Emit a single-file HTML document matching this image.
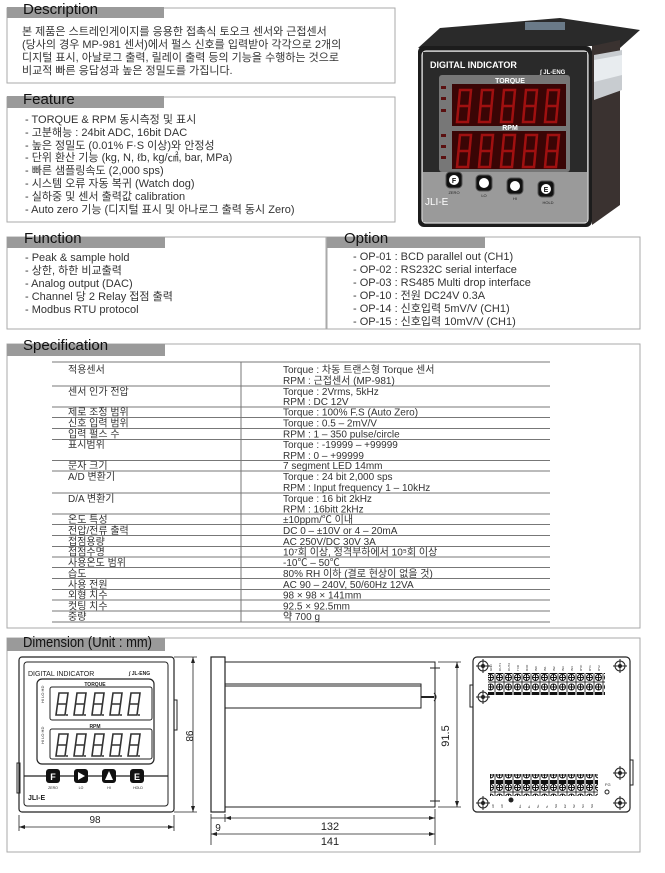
<!DOCTYPE html>
<html><head><meta charset="utf-8"><style>
html,body{margin:0;padding:0;background:#fff}
svg{display:block}
text{font-family:"Liberation Sans","Noto Sans CJK KR",sans-serif;fill:#222}
.t{font-size:15px;fill:#111}
.b{font-size:11px;fill:#333}
.s{font-size:10px;fill:#333}
</style></head><body>
<svg width="665" height="873" viewBox="0 0 665 873" xmlns="http://www.w3.org/2000/svg">
<defs>
<g id="dg"><path d="M3 1h9l-3 22h-9z M1.5 12h9" fill="none" stroke="#333" stroke-width="1.6"/><circle cx="11" cy="23" r="1" fill="#333"/></g>
<g id="rd"><path d="M4 1h11l-3 32h-11z M2.5 17h11" fill="none" stroke="#a01010" stroke-width="2.5"/></g>
<pattern id="term" x="0" y="0" width="9" height="22" patternUnits="userSpaceOnUse"><rect x="0" y="0" width="9" height="22" fill="#fff" stroke="#111" stroke-width="0.8"/><circle cx="4.5" cy="5" r="3" fill="#fff" stroke="#111"/><line x1="1.5" y1="5" x2="7.5" y2="5" stroke="#111"/><line x1="4.5" y1="2" x2="4.5" y2="8" stroke="#111"/><rect x="1" y="10" width="7" height="4" fill="#111"/><circle cx="4.5" cy="17.5" r="3" fill="#fff" stroke="#111"/><line x1="1.5" y1="17.5" x2="7.5" y2="17.5" stroke="#111"/><line x1="4.5" y1="14.5" x2="4.5" y2="20.5" stroke="#111"/></pattern>
<g id="screw"><circle r="5" fill="#fff" stroke="#222"/><line x1="-7" y1="0" x2="7" y2="0" stroke="#222"/><line x1="0" y1="-7" x2="0" y2="7" stroke="#222"/><circle r="2" fill="#222"/></g>
</defs>

<rect x="7" y="8" width="388" height="75" fill="none" stroke="#aaa"/>
<rect x="7" y="7" width="157" height="11" fill="#9a9a9a"/>
<text class="t" x="23" y="14">Description</text>
<text class="b" x="22" y="35"> 본 제품은 스트레인게이지를 응용한 접촉식 토오크 센서와 근접센서</text>
<text class="b" x="22" y="48">(당사의 경우 MP-981 센서)에서 펄스 신호를 입력받아 각각으로 2개의</text>
<text class="b" x="22" y="61">디지털 표시, 아날로그 출력, 릴레이 출력 등의 기능을 수행하는 것으로</text>
<text class="b" x="22" y="74">비교적 빠른 응답성과 높은 정밀도를 가집니다.</text>

<rect x="7" y="97" width="388" height="125" fill="none" stroke="#aaa"/>
<rect x="7" y="96" width="157" height="12" fill="#9a9a9a"/>
<text class="t" x="23" y="104">Feature</text>
<text class="b" x="25" y="123">- TORQUE &amp; RPM 동시측정 및 표시</text>
<text class="b" x="25" y="136">- 고분해능 : 24bit ADC, 16bit DAC</text>
<text class="b" x="25" y="149">- 높은 정밀도 (0.01% F·S 이상)와 안정성</text>
<text class="b" x="25" y="161">- 단위 환산 기능 (kg, N, ℓb, kg/㎠, bar, MPa)</text>
<text class="b" x="25" y="174">- 빠른 샘플링속도 (2,000 sps)</text>
<text class="b" x="25" y="187">- 시스템 오류 자동 복귀 (Watch dog)</text>
<text class="b" x="25" y="200">- 실하중 및 센서 출력값 calibration</text>
<text class="b" x="25" y="213">- Auto zero 기능 (디지털 표시 및 아나로그 출력 동시 Zero)</text>

<polygon points="440,28 560,18 640,30 620,48 592,46 418,48" fill="#2a2a2a"/>
<rect x="525" y="22" width="40" height="8" fill="#6a7a88"/>
<polygon points="592,46 620,40 620,205 592,225" fill="#3a3230"/>
<polygon points="594,55 622,50 622,90 594,100" fill="#c8ccd0"/>
<polygon points="594,60 622,55 622,75 594,82" fill="#e8ecef"/>
<rect x="418" y="46" width="174" height="181" rx="6" fill="#1c1c1c"/>
<rect x="422" y="51" width="166" height="172" rx="4" fill="#888" stroke="#ddd" stroke-width="1.2"/>
<rect x="423" y="52" width="164" height="120" fill="#2a2a2a"/>
<rect x="423" y="172" width="164" height="50" fill="#9a9a9a"/>
<text x="430" y="68" style="font-size:9px;font-weight:bold;fill:#fff">DIGITAL INDICATOR</text>
<text x="540" y="74" style="font-size:6px;font-weight:bold;fill:#fff">∫ JL-ENG</text>
<rect x="439" y="75" width="131" height="97" rx="3" fill="#777"/>
<text x="510" y="83" style="font-size:7px;font-weight:bold;fill:#fff" text-anchor="middle">TORQUE</text>
<rect x="452" y="84" width="114" height="42" fill="#3a0505"/>
<text x="510" y="130" style="font-size:7px;font-weight:bold;fill:#fff" text-anchor="middle">RPM</text>
<rect x="452" y="131" width="114" height="38" fill="#3a0505"/>
<g><use href="#rd" x="456" y="89"/><use href="#rd" x="478" y="89"/><use href="#rd" x="500" y="89"/><use href="#rd" x="522" y="89"/><use href="#rd" x="544" y="89"/></g>
<g><use href="#rd" x="456" y="134"/><use href="#rd" x="478" y="134"/><use href="#rd" x="500" y="134"/><use href="#rd" x="522" y="134"/><use href="#rd" x="544" y="134"/></g>
<g fill="#5a1010"><rect x="441" y="86" width="5" height="3"/><rect x="441" y="97" width="5" height="3"/><rect x="441" y="109" width="5" height="3"/><rect x="441" y="134" width="5" height="3"/><rect x="441" y="145" width="5" height="3"/><rect x="441" y="156" width="5" height="3"/></g>
<g fill="#111" stroke="#555"><rect x="446" y="172" width="16" height="16" rx="4"/><rect x="476" y="175" width="16" height="16" rx="4"/><rect x="507" y="178" width="16" height="16" rx="4"/><rect x="538" y="181" width="16" height="16" rx="4"/></g>
<g fill="#fff"><circle cx="454" cy="180" r="5"/><circle cx="484" cy="183" r="5"/><circle cx="515" cy="186" r="5"/><circle cx="546" cy="189" r="5"/></g>
<text x="454" y="183" style="font-size:7px;font-weight:bold;fill:#111" text-anchor="middle">F</text>
<text x="546" y="192" style="font-size:7px;font-weight:bold;fill:#111" text-anchor="middle">E</text>
<g style="font-size:4px;fill:#fff" text-anchor="middle"><text x="454" y="194">ZERO</text><text x="484" y="197">LO</text><text x="515" y="200">HI</text><text x="548" y="204">HOLD</text></g>
<text x="425" y="205" style="font-size:10px;fill:#fff">JLI-E</text>

<rect x="7" y="237" width="319" height="92" fill="none" stroke="#aaa"/>
<rect x="7" y="237" width="158" height="11" fill="#9a9a9a"/>
<text class="t" x="24" y="243">Function</text>
<text class="b" x="25" y="261">- Peak &amp; sample hold</text>
<text class="b" x="25" y="274">- 상한, 하한 비교출력</text>
<text class="b" x="25" y="287">- Analog output (DAC)</text>
<text class="b" x="25" y="300">- Channel 당 2 Relay 접점 출력</text>
<text class="b" x="25" y="313">- Modbus RTU protocol</text>

<rect x="327" y="237" width="313" height="92" fill="none" stroke="#aaa"/>
<rect x="327" y="237" width="158" height="11" fill="#9a9a9a"/>
<text class="t" x="344" y="243">Option</text>
<text class="b" x="353" y="260">- OP-01 : BCD parallel out (CH1)</text>
<text class="b" x="353" y="273">- OP-02 : RS232C serial interface</text>
<text class="b" x="353" y="286">- OP-03 : RS485 Multi drop interface</text>
<text class="b" x="353" y="299">- OP-10 : 전원 DC24V 0.3A</text>
<text class="b" x="353" y="312">- OP-14 : 신호입력 5mV/V (CH1)</text>
<text class="b" x="353" y="325">- OP-15 : 신호입력 10mV/V (CH1)</text>

<rect x="7" y="344" width="633" height="284" fill="none" stroke="#aaa"/>
<rect x="7" y="344" width="158" height="12" fill="#9a9a9a"/>
<text class="t" x="23" y="350">Specification</text>
<g stroke="#777" stroke-width="1">
<line x1="52" y1="362" x2="550" y2="362"/>
<line x1="52" y1="386" x2="550" y2="386"/>
<line x1="52" y1="407" x2="550" y2="407"/>
<line x1="52" y1="417.5" x2="550" y2="417.5"/>
<line x1="52" y1="428.5" x2="550" y2="428.5"/>
<line x1="52" y1="439.5" x2="550" y2="439.5"/>
<line x1="52" y1="460.5" x2="550" y2="460.5"/>
<line x1="52" y1="471" x2="550" y2="471"/>
<line x1="52" y1="493" x2="550" y2="493"/>
<line x1="52" y1="514" x2="550" y2="514"/>
<line x1="52" y1="524.5" x2="550" y2="524.5"/>
<line x1="52" y1="535.5" x2="550" y2="535.5"/>
<line x1="52" y1="546.5" x2="550" y2="546.5"/>
<line x1="52" y1="557" x2="550" y2="557"/>
<line x1="52" y1="567.5" x2="550" y2="567.5"/>
<line x1="52" y1="578.5" x2="550" y2="578.5"/>
<line x1="52" y1="589.5" x2="550" y2="589.5"/>
<line x1="52" y1="600" x2="550" y2="600"/>
<line x1="52" y1="611" x2="550" y2="611"/>
<line x1="52" y1="622" x2="550" y2="622"/>
<line x1="241" y1="362" x2="241" y2="622"/>
</g>
<text class="s" x="68" y="373">적용센서</text>
<text class="s" x="283" y="373">Torque : 차동 트랜스형 Torque 센서</text>
<text class="s" x="283" y="384">RPM : 근접센서 (MP-981)</text>
<text class="s" x="68" y="395">센서 인가 전압</text>
<text class="s" x="283" y="395">Torque : 2Vrms, 5kHz</text>
<text class="s" x="283" y="405">RPM : DC 12V</text>
<text class="s" x="68" y="415.5">제로 조정 범위</text><text class="s" x="283" y="415.5">Torque : 100% F.S (Auto Zero)</text>
<text class="s" x="68" y="426.5">신호 입력 범위</text><text class="s" x="283" y="426.5">Torque : 0.5 – 2mV/V</text>
<text class="s" x="68" y="437.5">입력 펄스 수</text><text class="s" x="283" y="437.5">RPM : 1 – 350 pulse/circle</text>
<text class="s" x="68" y="448">표시범위</text><text class="s" x="283" y="448">Torque : -19999 – +99999</text>
<text class="s" x="283" y="459">RPM : 0 – +99999</text>
<text class="s" x="68" y="469">문자 크기</text><text class="s" x="283" y="469">7 segment  LED 14mm</text>
<text class="s" x="68" y="480">A/D 변환기</text><text class="s" x="283" y="480">Torque : 24 bit 2,000 sps</text>
<text class="s" x="283" y="491">RPM : Input frequency 1 – 10kHz</text>
<text class="s" x="68" y="502">D/A 변환기</text><text class="s" x="283" y="502">Torque : 16 bit 2kHz</text>
<text class="s" x="283" y="512.5">RPM : 16bitt 2kHz</text>
<text class="s" x="68" y="523">온도 특성</text><text class="s" x="283" y="523">±10ppm/℃ 이내</text>
<text class="s" x="68" y="534">전압/전류 출력</text><text class="s" x="283" y="534">DC 0 – ±10V or 4 – 20mA</text>
<text class="s" x="68" y="545">접점용량</text><text class="s" x="283" y="545">AC 250V/DC 30V 3A</text>
<text class="s" x="68" y="555.5">접점수명</text><text class="s" x="283" y="555.5">10⁷회 이상, 정격부하에서 10⁵회 이상</text>
<text class="s" x="68" y="566">사용온도 범위</text><text class="s" x="283" y="566">-10℃ – 50℃</text>
<text class="s" x="68" y="577">습도</text><text class="s" x="283" y="577">80% RH 이하 (결로 현상이 없을 것)</text>
<text class="s" x="68" y="588">사용 전원</text><text class="s" x="283" y="588">AC 90 – 240V, 50/60Hz 12VA</text>
<text class="s" x="68" y="598.5">외형 치수</text><text class="s" x="283" y="598.5">98 × 98 × 141mm</text>
<text class="s" x="68" y="609.5">컷팅 치수</text><text class="s" x="283" y="609.5">92.5 × 92.5mm</text>
<text class="s" x="68" y="620">중량</text><text class="s" x="283" y="620">약 700 g</text>

<rect x="7" y="638" width="633" height="214" fill="none" stroke="#aaa"/>
<rect x="7" y="638" width="158" height="13" fill="#9a9a9a"/>
<text class="t" x="23" y="647" textLength="129" lengthAdjust="spacingAndGlyphs">Dimension (Unit : mm)</text>

<rect x="19" y="657" width="155" height="155" rx="3" fill="#fff" stroke="#222" stroke-width="1.2"/>
<rect x="24" y="662" width="144" height="144" rx="3" fill="none" stroke="#222"/>
<rect x="17" y="763" width="3" height="30" fill="none" stroke="#222"/>
<rect x="174" y="700" width="3" height="30" fill="none" stroke="#222"/>
<text x="28" y="676" style="font-size:7px">DIGITAL INDICATOR</text>
<text x="129" y="675" style="font-size:5px;font-weight:bold">∫ JL-ENG</text>
<rect x="37" y="679" width="117" height="85" rx="5" fill="none" stroke="#222" stroke-width="1.2"/>
<text x="95" y="686" style="font-size:5px;font-weight:bold" text-anchor="middle">TORQUE</text>
<rect x="50" y="687" width="102" height="33" rx="2" fill="none" stroke="#222"/>
<text x="95" y="728" style="font-size:5px;font-weight:bold" text-anchor="middle">RPM</text>
<rect x="50" y="729" width="102" height="30" rx="2" fill="none" stroke="#222"/>
<g><use href="#dg" x="56" y="692"/><use href="#dg" x="74" y="692"/><use href="#dg" x="92" y="692"/><use href="#dg" x="110" y="692"/><use href="#dg" x="128" y="692"/></g>
<g><use href="#dg" x="56" y="733"/><use href="#dg" x="74" y="733"/><use href="#dg" x="92" y="733"/><use href="#dg" x="110" y="733"/><use href="#dg" x="128" y="733"/></g>
<text x="46" y="705" style="font-size:4px" transform="rotate(-90 44 705)">HI LO HD</text>
<text x="46" y="746" style="font-size:4px" transform="rotate(-90 44 746)">HI LO HD</text>
<line x1="24" y1="776" x2="168" y2="776" stroke="#222" stroke-width="1.2"/>
<g fill="#111"><rect x="46" y="769" width="14" height="14" rx="3"/><rect x="74" y="769" width="14" height="14" rx="3"/><rect x="102" y="769" width="14" height="14" rx="3"/><rect x="130" y="769" width="14" height="14" rx="3"/></g>
<text x="53" y="780" style="font-size:9px;font-weight:bold;fill:#fff" text-anchor="middle">F</text>
<polygon points="78,772 78,780 85,776" fill="#fff"/>
<polygon points="109,771 105,780 113,780" fill="#fff"/>
<text x="137" y="780" style="font-size:9px;font-weight:bold;fill:#fff" text-anchor="middle">E</text>
<g style="font-size:3.5px" text-anchor="middle"><text x="53" y="789">ZERO</text><text x="81" y="789">LO</text><text x="109" y="789">HI</text><text x="138" y="789">HOLD</text></g>
<text x="28" y="800" style="font-size:7px;font-weight:bold">JLI-E</text>
<g stroke="#222" stroke-width="0.8" fill="none">
<line x1="193" y1="657" x2="193" y2="812"/><line x1="174" y1="657" x2="197" y2="657"/><line x1="174" y1="812" x2="197" y2="812"/>
<line x1="19" y1="815" x2="19" y2="831"/><line x1="174" y1="815" x2="174" y2="831"/><line x1="19" y1="827" x2="174" y2="827"/>
</g>
<g fill="#222"><polygon points="193,657 191,663 195,663"/><polygon points="193,812 191,806 195,806"/><polygon points="19,827 25,825 25,829"/><polygon points="174,827 168,825 168,829"/></g>
<text x="186" y="736" style="font-size:10px" text-anchor="middle" transform="rotate(90 186 736)">98</text>
<text x="95" y="823" style="font-size:10px" text-anchor="middle">98</text>

<g stroke="#222" fill="none">
<rect x="211" y="657" width="14" height="155" stroke-width="1.2"/>
<rect x="225" y="662" width="210" height="145"/>
<rect x="225" y="684" width="196" height="24"/>
<line x1="225" y1="686" x2="421" y2="686"/>
<line x1="421" y1="697" x2="434" y2="697" stroke-width="2"/>
<path d="M434 693 q4 4 0 8"/>
<line x1="430" y1="668" x2="440" y2="668"/><line x1="435" y1="664" x2="435" y2="672"/>
<line x1="430" y1="801" x2="440" y2="801"/><line x1="435" y1="797" x2="435" y2="805"/>
</g>
<g stroke="#222" stroke-width="0.8" fill="none">
<line x1="457" y1="662" x2="457" y2="807"/><line x1="438" y1="662" x2="461" y2="662"/><line x1="438" y1="807" x2="461" y2="807"/>
<line x1="211" y1="814" x2="211" y2="845"/><line x1="225" y1="814" x2="225" y2="822"/><line x1="435" y1="809" x2="435" y2="845"/>
<line x1="211" y1="818" x2="225" y2="818"/><line x1="225" y1="818" x2="435" y2="818"/><line x1="211" y1="834" x2="435" y2="834"/>
</g>
<g fill="#222"><polygon points="457,662 455,668 459,668"/><polygon points="457,807 455,801 459,801"/><polygon points="225,818 231,816 231,820"/><polygon points="435,818 429,816 429,820"/><polygon points="211,834 217,832 217,836"/><polygon points="435,834 429,832 429,836"/></g>
<text x="449" y="736" style="font-size:11px" text-anchor="middle" transform="rotate(-90 449 736)">91.5</text>
<text x="218" y="831" style="font-size:10px" text-anchor="middle">9</text>
<text x="330" y="830" style="font-size:11px" text-anchor="middle">132</text>
<text x="330" y="845" style="font-size:11px" text-anchor="middle">141</text>

<rect x="473" y="657" width="157" height="155" rx="4" fill="#fff" stroke="#222" stroke-width="1.2"/>
<path d="M473 685 h-3 v22 h3 M630 760 h3 v25 h-3" fill="none" stroke="#222"/>
<rect x="488" y="673" width="117" height="22" fill="url(#term)"/>
<rect x="490" y="774" width="108" height="22" fill="url(#term)"/>
<g style="font-size:3px" fill="#333">
<text x="492" y="671" transform="rotate(-90 492 671)">GND</text><text x="501" y="671" transform="rotate(-90 501 671)">OUT1</text><text x="510" y="671" transform="rotate(-90 510 671)">OUT2</text><text x="519" y="671" transform="rotate(-90 519 671)">TXD</text><text x="528" y="671" transform="rotate(-90 528 671)">RXD</text><text x="537" y="671" transform="rotate(-90 537 671)">IN0</text><text x="546" y="671" transform="rotate(-90 546 671)">IN1</text><text x="555" y="671" transform="rotate(-90 555 671)">IN2</text><text x="564" y="671" transform="rotate(-90 564 671)">IN3</text><text x="573" y="671" transform="rotate(-90 573 671)">IN4</text><text x="582" y="671" transform="rotate(-90 582 671)">RYC</text><text x="591" y="671" transform="rotate(-90 591 671)">RY1</text><text x="600" y="671" transform="rotate(-90 600 671)">RY2</text>
<text x="494" y="808" transform="rotate(-90 494 808)">AC</text><text x="503" y="808" transform="rotate(-90 503 808)">AC</text><text x="521" y="808" transform="rotate(-90 521 808)">E+</text><text x="530" y="808" transform="rotate(-90 530 808)">E-</text><text x="539" y="808" transform="rotate(-90 539 808)">S+</text><text x="548" y="808" transform="rotate(-90 548 808)">S-</text><text x="557" y="808" transform="rotate(-90 557 808)">SH</text><text x="566" y="808" transform="rotate(-90 566 808)">E2</text><text x="575" y="808" transform="rotate(-90 575 808)">S2</text><text x="584" y="808" transform="rotate(-90 584 808)">S3</text><text x="593" y="808" transform="rotate(-90 593 808)">SH</text>
</g>
<circle cx="511" cy="800" r="2.5" fill="#222"/>
<text x="605" y="786" style="font-size:4px">FG</text>
<circle cx="607" cy="792" r="2" fill="none" stroke="#222"/>
<use href="#screw" x="483" y="666"/><use href="#screw" x="620" y="666"/><use href="#screw" x="483" y="803"/><use href="#screw" x="620" y="803"/><use href="#screw" x="483" y="697"/><use href="#screw" x="620" y="773"/>
</svg>
</body></html>
